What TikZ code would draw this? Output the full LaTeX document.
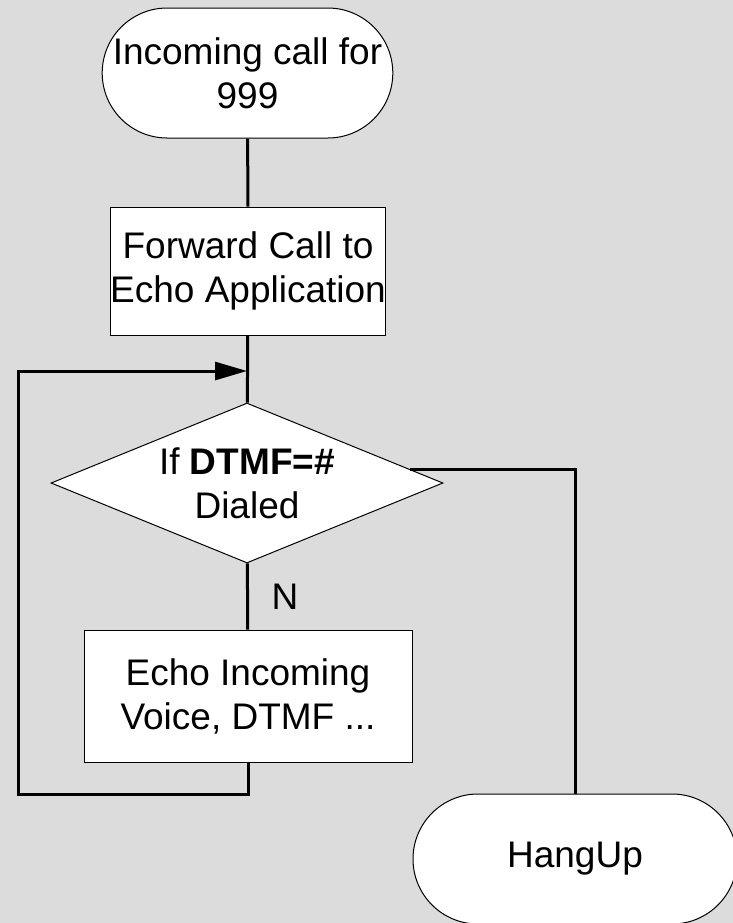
\documentclass[tikz,border=0pt]{standalone}
\usepackage{fontspec}
\setmainfont{Liberation Sans}
\usetikzlibrary{shapes.misc,shapes.geometric,arrows.meta,calc}
\definecolor{panelgray}{RGB}{220,220,220}
\tikzset{
    chart/.style={draw=black, fill=white, line width=0.5pt, align=center, inner sep=0pt,
      font=\fontsize{18.5}{22}\selectfont},
    terminal/.style={chart, rounded rectangle},
    process/.style={chart, rectangle},
    decision/.style={chart, diamond, aspect=2.45},
    flow/.style={line width=1.5pt},
  }
\begin{document}
\begin{tikzpicture}[x=0.5pt,y=-0.5pt]
  %fond gris
  \fill[panelgray] (0,0) rectangle (733,923);
  \useasboundingbox (0,0) rectangle (733,923);
  %boites
  \node[terminal, minimum width=139.5pt, minimum height=65pt] (start) at (247.5,73) {Incoming call for\\999};
  \node[process, minimum width=137pt, minimum height=64pt] (fwd) at (248,271) {Forward Call to\\Echo Application};
  \node[decision, minimum width=196pt, minimum height=80pt] (dec) at (247,483) {If \textbf{DTMF=\#}\\Dialed};
  \node[process, minimum width=164pt, minimum height=66pt] (echo) at (248,696) {Echo Incoming\\Voice, DTMF ...};
  \node[terminal, minimum width=162pt, minimum height=65pt] (hang) at (575,859) {HangUp};
  %points de la boucle
  \coordinate (merge) at (247,371);
  \coordinate (loopbot) at (18,794);
  \coordinate (looptop) at (18,371);
  \coordinate (exit) at ($(dec.north)!0.83!(dec.east)$);
  %liaisons
  \draw[flow] (start) -- (fwd);
  \draw[flow] (fwd) -- (dec);
  \draw[flow] (dec) -- node[right=8pt, font=\fontsize{18.5}{22}\selectfont]{N} (echo);
  \draw[flow, -{Triangle[length=16pt,width=9pt]}] (echo.south) |- (loopbot) -- (looptop) -- (merge);
  \draw[flow] (exit) -| (hang.north);
\end{tikzpicture}
\end{document}
